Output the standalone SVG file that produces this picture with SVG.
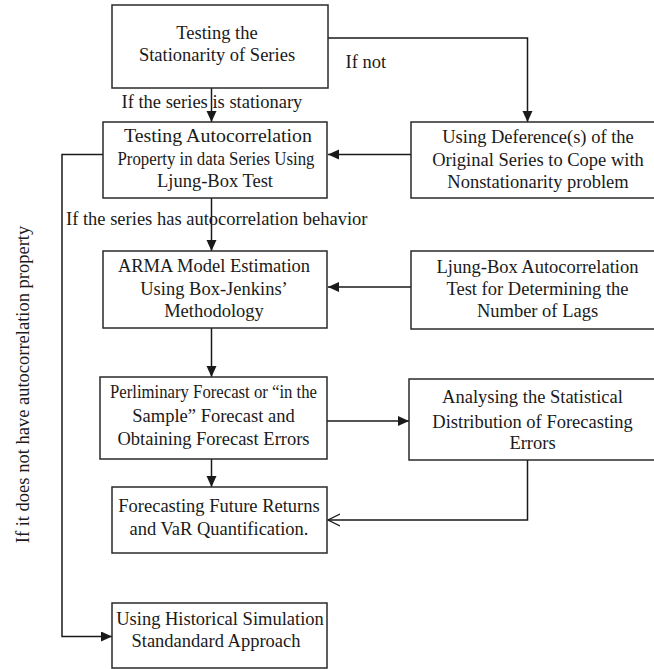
<svg xmlns="http://www.w3.org/2000/svg" width="654" height="669" viewBox="0 0 654 669">
<style>
.box{fill:#fff;stroke:#2a2a2a;stroke-width:1.5}
.t{font-family:"Liberation Serif","Times New Roman",serif;font-size:18.5px;fill:#1a1a1a;text-anchor:middle}
.l{font-family:"Liberation Serif","Times New Roman",serif;font-size:18.5px;fill:#1a1a1a}
.c{fill:none;stroke:#1a1a1a;stroke-width:1.5}
</style>
<defs>
<marker id="ah" markerUnits="userSpaceOnUse" markerWidth="12" markerHeight="11" refX="11" refY="5" orient="auto">
<path d="M0,0 L11,5 L0,10 z" fill="#1a1a1a"/>
</marker>
<marker id="ao" markerUnits="userSpaceOnUse" markerWidth="13" markerHeight="14" refX="12" refY="6.5" orient="auto">
<path d="M0,0.5 L12,6.5 L0,12.5" fill="none" stroke="#1a1a1a" stroke-width="1.3"/>
</marker>
</defs>
<g id="connectors">
<path class="c" d="M211.5,88 V122" marker-end="url(#ah)"/>
<path class="c" d="M328,38 H527.5 V122" marker-end="url(#ah)"/>
<path class="c" d="M411,154.5 H328" marker-end="url(#ah)"/>
<path class="c" d="M211.5,198 V251" marker-end="url(#ah)"/>
<path class="c" d="M103,154.5 H62 V636.5 H112" marker-end="url(#ah)"/>
<path class="c" d="M411,287 H328" marker-end="url(#ah)"/>
<path class="c" d="M211.5,328 V377" marker-end="url(#ah)"/>
<path class="c" d="M327,421 H409" marker-end="url(#ah)"/>
<path class="c" d="M211.5,459 V487" marker-end="url(#ah)"/>
<path class="c" d="M527.5,460 V520 H328" marker-end="url(#ao)"/>
</g>
<g id="labels">
<text class="l" x="345.5" y="68">If not</text>
<text class="l" x="121.5" y="108">If the series is stationary</text>
<text class="l" x="66" y="225">If the series has autocorrelation behavior</text>
<text class="t" transform="translate(29,384.5) rotate(-90)" x="0" y="0">If it does not have autocorrelation property</text>
</g>
<g id="n1">
<rect class="box" x="112" y="5" width="216" height="83"/>
<text class="t" x="217" y="39">Testing the</text>
<text class="t" x="217" y="61">Stationarity of Series</text>
</g>
<g id="n2">
<rect class="box" x="103" y="122" width="224" height="76"/>
<text class="t" x="218" y="142" textLength="188" lengthAdjust="spacingAndGlyphs">Testing Autocorrelation</text>
<text class="t" x="216" y="165" textLength="197" lengthAdjust="spacingAndGlyphs">Property in data Series Using</text>
<text class="t" x="215" y="187">Ljung-Box Test</text>
</g>
<g id="n3">
<rect class="box" x="411" y="122" width="254" height="76"/>
<text class="t" x="538" y="143">Using Deference(s) of  the</text>
<text class="t" x="538" y="166">Original Series to Cope with</text>
<text class="t" x="538" y="188">Nonstationarity problem</text>
</g>
<g id="n4">
<rect class="box" x="103" y="251" width="224" height="77"/>
<text class="t" x="214" y="272">ARMA Model Estimation</text>
<text class="t" x="214" y="295">Using Box-Jenkins’</text>
<text class="t" x="214" y="317">Methodology</text>
</g>
<g id="n5">
<rect class="box" x="411" y="251" width="254" height="78"/>
<text class="t" x="537.5" y="273">Ljung-Box Autocorrelation</text>
<text class="t" x="537.5" y="295">Test for Determining the</text>
<text class="t" x="537.5" y="317">Number of Lags</text>
</g>
<g id="n6">
<rect class="box" x="100" y="377" width="227" height="82"/>
<text class="t" x="213.5" y="398" textLength="207" lengthAdjust="spacingAndGlyphs">Perliminary Forecast or “in the</text>
<text class="t" x="213.5" y="422">Sample” Forecast and</text>
<text class="t" x="213.5" y="445">Obtaining Forecast Errors</text>
</g>
<g id="n7">
<rect class="box" x="409" y="379" width="256" height="81"/>
<text class="t" x="532.5" y="403">Analysing the Statistical</text>
<text class="t" x="532.5" y="428">Distribution of Forecasting</text>
<text class="t" x="532.5" y="449">Errors</text>
</g>
<g id="n8">
<rect class="box" x="112" y="487" width="215" height="66"/>
<text class="t" x="219" y="512">Forecasting Future Returns</text>
<text class="t" x="219" y="535">and VaR Quantification.</text>
</g>
<g id="n9">
<rect class="box" x="112" y="603" width="215" height="65"/>
<text class="t" x="220" y="625">Using Historical Simulation</text>
<text class="t" x="216" y="647">Standandard Approach</text>
</g>
</svg>
